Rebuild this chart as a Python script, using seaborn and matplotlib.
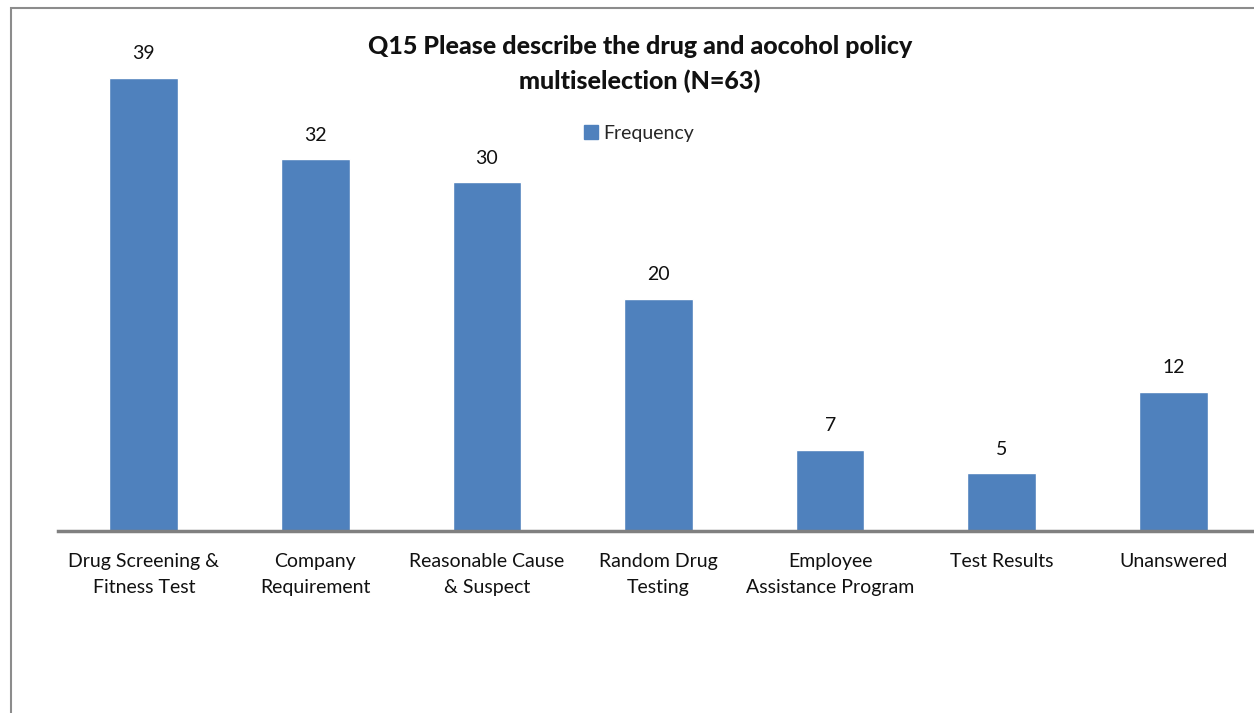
import matplotlib
matplotlib.use("Agg")
import matplotlib.pyplot as plt
import seaborn as sns
import pandas as pd
from matplotlib.patches import Rectangle, Patch

categories = ["Drug Screening &\nFitness Test", "Company\nRequirement", "Reasonable Cause\n& Suspect",
              "Random Drug\nTesting", "Employee\nAssistance Program", "Test Results", "Unanswered"]
values = [39, 32, 30, 20, 7, 5, 12]
series_name = "Frequency"
title = "Q15 Please describe the drug and aocohol policy\nmultiselection (N=63)"

sns.set_theme(style="white")
plt.rcParams['font.family'] = ['Lato', 'DejaVu Sans']

W, H = 1254, 713
fig = plt.figure(figsize=(W / 100, H / 100), dpi=100)
fig.patches.append(Rectangle((11 / W, -0.1), 1.2, 1 - 8 / H + 0.1, transform=fig.transFigure,
                             fill=False, edgecolor="#8c8c8c", linewidth=1.5, zorder=0))

ax = fig.add_axes([58 / W, (H - 531) / H, (W - 58) / W, (531 - 8) / H])
df = pd.DataFrame({"cat": categories, "val": values})
sns.barplot(data=df, x="cat", y="val", color="#4F81BD", saturation=1, width=0.40, ax=ax)
ax.set_xlim(-0.5, 6.47)
ax.set_ylim(0, 45)
for s in ["top", "right", "left"]:
    ax.spines[s].set_visible(False)
ax.spines["bottom"].set_color("#808080")
ax.spines["bottom"].set_linewidth(2.5)
ax.set_yticks([])
ax.set_xlabel("")
ax.set_ylabel("")
ax.tick_params(axis="x", length=0, pad=16, labelsize=14, colors="#111111")
ax.set_xticks(range(len(categories)))
ax.set_xticklabels(categories, linespacing=1.6)
ax.patch.set_alpha(0)
for i, v in enumerate(values):
    ax.annotate(str(v), (i, v), xytext=(0, 11), textcoords="offset points",
                ha="center", va="bottom", fontsize=14, color="#111111")

fig.text(640 / W, 1 - 64 / H, title, ha="center", va="center", fontsize=18, fontweight="black",
         color="#111111", linespacing=1.55)
ax.legend(handles=[Patch(color="#4F81BD", label=series_name)], loc="center",
          bbox_to_anchor=(639 / W, 1 - 133 / H), bbox_transform=fig.transFigure, frameon=False,
          fontsize=14, handlelength=0.7, handleheight=0.7, handletextpad=0.3)

fig.savefig("out.png", dpi=100)
